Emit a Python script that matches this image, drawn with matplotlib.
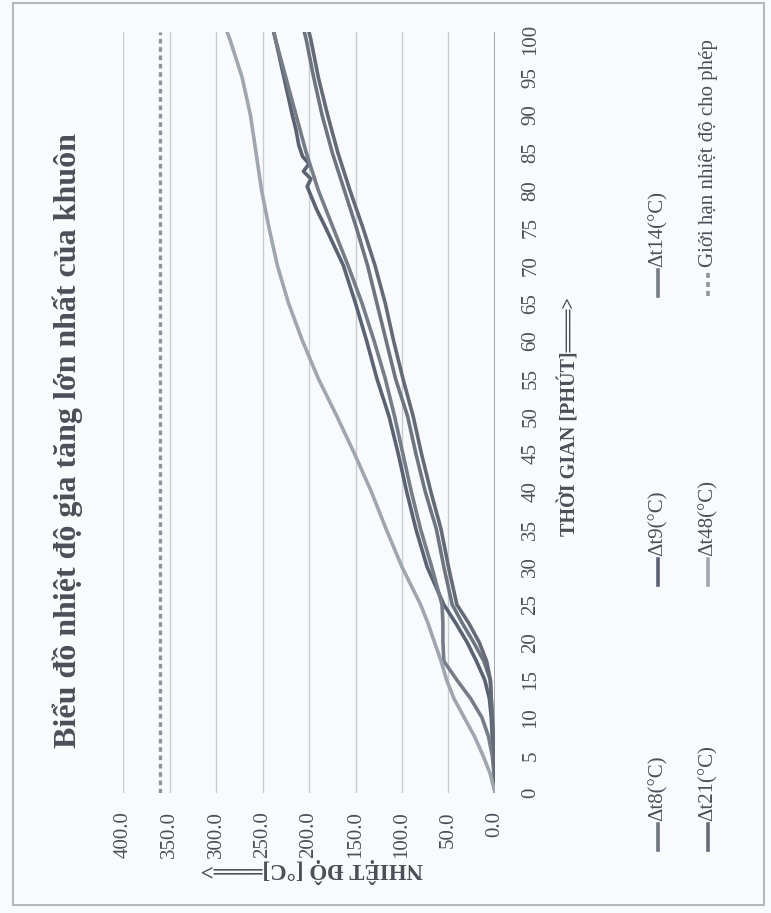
import matplotlib
matplotlib.use('Agg')
import matplotlib.pyplot as plt
from matplotlib.lines import Line2D
from matplotlib.patches import Rectangle

# ---------------- data ----------------
time_grid = [0, 2.5, 5, 7.5, 10, 12.5, 15, 17.5, 20, 22.5, 25, 30, 35, 40, 45,
             50, 55, 60, 65, 70, 75, 80, 85, 90, 95, 100, 101]

dt8 = [0, 0, 1, 2, 3, 4, 5, 12, 23, 35, 46, 55, 63, 75, 85,
       94, 107, 117, 127, 137, 149, 162, 175, 186, 195, 203, 205]
dt14 = [0, 1, 3, 7, 14, 26, 41, 55, 56, 56, 57, 68, 80, 90, 99,
        108, 118, 130, 143, 158, 174, 190, 203, 214, 225, 236, 238]
dt21 = [0, 0, 1, 2, 3, 4, 5, 9, 17, 28, 41, 50, 58, 69, 79,
        88, 99, 109, 118, 129, 142, 156, 169, 180, 190, 198, 200]
dt48 = [0, 5, 13, 22, 33, 44, 52, 58, 65, 72, 80, 100, 117, 133, 151,
        170, 190, 207, 222, 234, 243, 251, 257, 263, 272, 285, 288]

time_dt9 = [0, 2.5, 5, 7.5, 10, 12.5, 15, 17.5, 20, 22.5, 25, 30, 35, 40, 45,
            50, 55, 60, 65, 70, 75, 77.5, 80.5, 81.5, 82.5, 83.5, 84.5, 86,
            88, 90, 95, 100, 101]
dt9 = [0, 1, 2, 3, 4, 6, 11, 20, 30, 42, 55, 73, 85, 95, 104,
       114, 127, 138, 150, 163, 182, 192, 202, 198, 206, 200, 207, 211,
       214, 218, 227, 236, 238]

limit_value = 360

temp_ticks = [0, 50, 100, 150, 200, 250, 300, 350, 400]
time_ticks = list(range(0, 101, 5))

title = "Biểu đồ nhiệt độ gia tăng lớn nhất của khuôn"
xlabel = "THỜI GIAN [PHÚT]═══>"
ylabel = "NHIỆT ĐỘ [°C]═══>"
names = ["Δt8(°C)", "Δt9(°C)", "Δt14(°C)", "Δt21(°C)", "Δt48(°C)",
         "Giới hạn nhiệt độ cho phép"]

# ---------------- style ----------------
W, H = 771, 913
SERIF = ['Liberation Serif', 'DejaVu Serif', 'DejaVu Sans']
BG = '#f9fafc'
TXT = '#4a4f58'
col = {'dt8': '#6f7580', 'dt9': '#5b6272', 'dt14': '#767c88',
       'dt21': '#646a77', 'dt48': '#a0a6b0', 'lim': '#8e949e'}
LW = 2.6

def fx(x):
    return x / W

def fy(y):
    return 1 - y / H

fig = plt.figure(figsize=(W / 100, H / 100), dpi=100, facecolor=BG)

# plot area in pixels: x 123..495 (400..0), y 32..793 (101..0)
ax = fig.add_axes([fx(123), fy(793), (495 - 123) / W, (793 - 32) / H])
ax.set_facecolor(BG)

ax.plot(dt8, time_grid, color=col['dt8'], lw=LW, solid_capstyle='round', zorder=4)
ax.plot(dt9, time_dt9, color=col['dt9'], lw=LW, solid_capstyle='round', zorder=4)
ax.plot(dt14, time_grid, color=col['dt14'], lw=LW, solid_capstyle='round', zorder=4)
ax.plot(dt21, time_grid, color=col['dt21'], lw=LW, solid_capstyle='round', zorder=4)
ax.plot(dt48, time_grid, color=col['dt48'], lw=LW, solid_capstyle='round', zorder=4)
ax.plot([limit_value, limit_value], [0, 101], color=col['lim'], lw=2.4,
        linestyle=(0, (1.4, 1.1)), zorder=3)

ax.set_xlim(400, 0)
ax.set_ylim(0, 101)

for s in ax.spines.values():
    s.set_visible(False)
ax.axvline(0, color='#9a9fa7', lw=1.3, zorder=2)
for t in temp_ticks[1:]:
    ax.axvline(t, color='#c9ccd2', lw=1.0, zorder=1)

ax.set_xticks(temp_ticks)
ax.set_xticklabels([f"{v:.1f}" for v in temp_ticks], rotation=90,
                   fontsize=15, family=SERIF, color=TXT)
ax.tick_params(axis='x', length=0, pad=13)
for lab in ax.get_xticklabels():
    lab.set_va('top')
    lab.set_ha('center')

ax.yaxis.tick_right()
ax.set_yticks(time_ticks)
ax.set_yticklabels([str(v) for v in time_ticks], rotation=90,
                   fontsize=15, family=SERIF, color=TXT)
ax.tick_params(axis='y', length=0, pad=19)
for lab in ax.get_yticklabels():
    lab.set_va('center')
    lab.set_ha('left')

# titles
fig.text(fx(68), fy(441), title, rotation=90, ha='center', va='center',
         fontsize=23, fontweight='bold', family=SERIF, color=TXT)
fig.text(fx(570), fy(417), xlabel, rotation=90, ha='center', va='center',
         fontsize=14.5, fontweight='bold', family=SERIF, color=TXT)
fig.text(fx(312), fy(870), ylabel, rotation=180, ha='center', va='center',
         fontsize=16.5, fontweight='bold', family=SERIF, color=TXT)

# legend (rotated, drawn manually)
legend_items = [
    (names[0], col['dt8'], '-', 658, 850),
    (names[1], col['dt9'], '-', 658, 585),
    (names[2], col['dt14'], '-', 658, 296),
    (names[3], col['dt21'], '-', 708, 850),
    (names[4], col['dt48'], '-', 708, 585),
    (names[5], col['lim'], (0, (1.4, 1.1)), 708, 296),
]
for name, c, ls, x, y0 in legend_items:
    fig.add_artist(Line2D([fx(x), fx(x)], [fy(y0), fy(y0 - 26)],
                          transform=fig.transFigure, color=c, lw=2.6,
                          linestyle=ls))
    fig.text(fx(x), fy(y0 - 29), name, rotation=90, ha='center', va='bottom',
             fontsize=15, family=SERIF, color=TXT)

# outer frame
fig.add_artist(Rectangle((fx(13), fy(905)), fx(764) - fx(13), fy(3) - fy(905),
                         transform=fig.transFigure, fill=False,
                         edgecolor='#b3b7be', lw=1.5))

fig.savefig('out.png', dpi=100, facecolor=BG)
